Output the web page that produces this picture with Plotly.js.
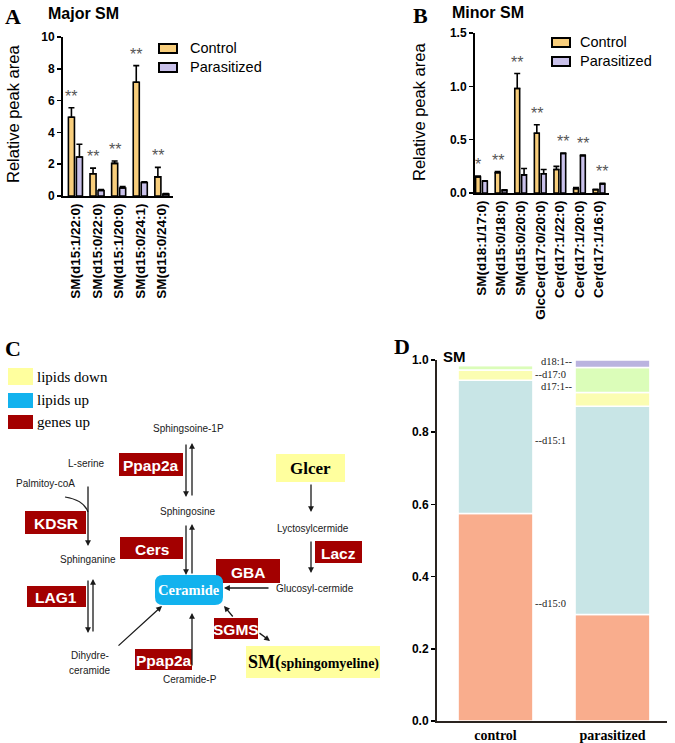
<!DOCTYPE html>
<html><head><meta charset="utf-8">
<script src="https://cdn.plot.ly/plotly-3.0.1.min.js"></script>
<style>body{margin:0;padding:0;background:#fff}#chart{width:675px;height:743px}</style>
</head><body><div id="chart"></div>
<script>
// ---------- Panel A: Major SM ----------
const majorCategories = ['SM(d15:1/22:0)','SM(d15:0/22:0)','SM(d15:1/20:0)','SM(d15:0/24:1)','SM(d15:0/24:0)'];
const majorControl = [4.95, 1.4, 2.05, 7.15, 1.2];
const majorControlErr = [0.6, 0.35, 0.15, 1.05, 0.6];
const majorParasitized = [2.45, 0.35, 0.5, 0.85, 0.12];
const majorParasitizedErr = [0.8, 0.05, 0.1, 0.05, 0.03];
const majorSig = ['**','**','**','**','**'];

// ---------- Panel B: Minor SM ----------
const minorCategories = ['SM(d18:1/17:0)','SM(d15:0/18:0)','SM(d15:0/20:0)','GlcCer(d17:0/20:0)','Cer(d17:1/22:0)','Cer(d17:1/20:0)','Cer(d17:1/16:0)'];
const minorControl = [0.15, 0.19, 0.98, 0.56, 0.22, 0.04, 0.03];
const minorControlErr = [0.01, 0.01, 0.14, 0.08, 0.03, 0.01, 0.005];
const minorParasitized = [0.11, 0.025, 0.17, 0.18, 0.37, 0.35, 0.085];
const minorParasitizedErr = [0.005, 0.005, 0.06, 0.04, 0.005, 0.005, 0.005];
const minorSig = ['*','**','**','**','**','**','**'];

// ---------- Panel D: SM composition ----------
const smGroups = ['control','parasitized'];
const smSpecies = ['d15:0','d15:1','d17:0','d17:1','d18:1'];
const sm_d15_0 = [0.575, 0.295];
const sm_d15_1 = [0.369, 0.577];
const sm_d17_0 = [0.028, 0.038];
const sm_d17_1 = [0.013, 0.069];
const sm_d18_1 = [0.0, 0.021];

// ---------- helpers ----------
const W = 675, H = 743;
const X = p => p / W;
const Y = p => 1 - p / H;
const CTRL = '#F8CE7C', PARA = '#C9C1EA';
const GENE = '#A30000', LIPDOWN = '#FFFF9E', LIPUP = '#12B2EE';
const SANS = 'Liberation Sans, Arial, sans-serif';
const NARROW = 'Liberation Sans Narrow, Arial Narrow, Liberation Sans, sans-serif';
const SERIF = 'Liberation Serif, Times New Roman, serif';

const traces = [];
const annotations = [];
const shapes = [];

function groupTraces(cats, ctrl, ctrlErr, para, paraErr, xa, ya, off, w) {
  const zero = ctrlErr.map(() => 0);
  traces.push({type:'bar', x:cats, y:ctrl, xaxis:xa, yaxis:ya, name:'Control',
    offset:off[0], width:w, marker:{color:CTRL, line:{color:'#000', width:1.6}},
    error_y:{type:'data', symmetric:false, array:ctrlErr, arrayminus:zero, color:'#000', thickness:1.6, width:3}});
  traces.push({type:'bar', x:cats, y:para, xaxis:xa, yaxis:ya, name:'Parasitized',
    offset:off[1], width:w, marker:{color:PARA, line:{color:'#000', width:1.6}},
    error_y:{type:'data', symmetric:false, array:paraErr, arrayminus:zero, color:'#000', thickness:1.6, width:3}});
}
groupTraces(majorCategories, majorControl, majorControlErr, majorParasitized, majorParasitizedErr, 'x', 'y', [-0.33, 0.04], 0.28);
groupTraces(minorCategories, minorControl, minorControlErr, minorParasitized, minorParasitizedErr, 'x2', 'y2', [-0.30, 0.05], 0.25);

function sigStars(sig, ctrl, ctrlErr, para, paraErr, xr, yr, off, w) {
  sig.forEach((s, i) => {
    const c = ctrl[i] + ctrlErr[i], p = para[i] + paraErr[i];
    const useCtrl = c >= p;
    annotations.push({xref:xr, yref:yr, x: i + (useCtrl ? off[0] : off[1]) + w/2, y: Math.max(c, p),
      text:s, showarrow:false, yanchor:'bottom', yshift:1, font:{family:SANS, size:16, color:'#555'}});
  });
}
sigStars(majorSig, majorControl, majorControlErr, majorParasitized, majorParasitizedErr, 'x', 'y', [-0.33, 0.04], 0.28);
sigStars(minorSig, minorControl, minorControlErr, minorParasitized, minorParasitizedErr, 'x2', 'y2', [-0.30, 0.05], 0.25);

// stacked D (base from cumulative sums)
const smSeries = [sm_d15_0, sm_d15_1, sm_d17_0, sm_d17_1, sm_d18_1];
const smColors = ['#F9AD8D', '#C8E5E6', '#FBFDB2', '#DBFDB9', '#BAB3DF'];
let cum = smGroups.map(() => 0);
smSeries.forEach((vals, i) => {
  traces.push({type:'bar', x:smGroups, y:vals, base:cum.slice(), xaxis:'x3', yaxis:'y3', name:smSpecies[i],
    width:0.64, marker:{color:smColors[i], line:{color:'#fff', width:1.5}}});
  cum = cum.map((c, j) => c + vals[j]);
});

// ---------- text helpers ----------
function txt(x, y, text, font, xanchor, extra) {
  annotations.push(Object.assign({xref:'paper', yref:'paper', x:X(x), y:Y(y), text:text, showarrow:false,
    xanchor:xanchor || 'center', yanchor:'middle', font:font}, extra || {}));
}
function rect(x0, y0, x1, y1, fill, line) {
  shapes.push({type:'rect', xref:'paper', yref:'paper', x0:X(x0), y0:Y(y0), x1:X(x1), y1:Y(y1),
    fillcolor:fill, line:line || {width:0}, layer:'above'});
}
function arrow(tx, ty, hx, hy) {
  annotations.push({xref:'paper', yref:'paper', x:X(hx), y:Y(hy), ax:tx - hx, ay:ty - hy, text:'',
    showarrow:true, arrowhead:2, arrowsize:0.9, arrowwidth:1.3, arrowcolor:'#1a1a1a', standoff:0, startstandoff:0});
}

// panel letters and titles
const letterFont = {family:SERIF, size:22, color:'#000', weight:'bold'};
txt(3, 16, 'A', letterFont, 'left');
txt(411, 15, 'B', letterFont, 'left');
txt(3, 348, 'C', letterFont, 'left');
txt(392, 347, 'D', letterFont, 'left');
const titleFont = {family:SANS, size:16, color:'#000', weight:'bold'};
txt(46, 14, 'Major SM', titleFont, 'left');
txt(450, 13, 'Minor SM', titleFont, 'left');
txt(441, 357, 'SM', {family:SANS, size:15, color:'#000', weight:'bold'}, 'left');

// y axis titles A/B
txt(13, 114, 'Relative peak area', {family:SANS, size:16.5, color:'#000'}, 'center', {textangle:-90});
txt(419, 112, 'Relative peak area', {family:SANS, size:16.5, color:'#000'}, 'center', {textangle:-90});

// legends A/B
function legend(bx, by, tx, gap) {
  rect(bx, by, bx + 18, by + 9, CTRL, {color:'#000', width:2});
  rect(bx, by + gap, bx + 18, by + gap + 9, PARA, {color:'#000', width:2});
  const lf = {family:SANS, size:14.5, color:'#000'};
  txt(tx, by + 4, 'Control', lf, 'left');
  txt(tx, by + gap + 4, 'Parasitized', lf, 'left');
}
legend(159, 44, 188, 19);
legend(552, 38, 578, 19);

// D segment labels
const dl = {family:SERIF, size:10.5, color:'#222'};
txt(574, 362, 'd18:1--', dl, 'right');
txt(533, 374, '--d17:0', dl, 'left');
txt(574, 386, 'd17:1--', dl, 'right');
txt(533, 440, '--d15:1', dl, 'left');
txt(533, 603, '--d15:0', dl, 'left');

// ---------- Panel C: pathway diagram ----------
rect(8, 368, 33, 385, LIPDOWN);
rect(8, 393, 33, 408, LIPUP);
rect(8, 415, 33, 429, GENE);
const legC = {family:SERIF, size:15, color:'#000'};
txt(35, 377, 'lipids down', legC, 'left');
txt(35, 400, 'lipids up', legC, 'left');
txt(35, 422, 'genes up', legC, 'left');

const geneFont = {family:SANS, size:15.5, color:'#fff', weight:'bold'};
const genes = [
  ['Ppap2a', 119, 453, 183, 476], ['KDSR', 25, 511, 86, 534], ['Cers', 120, 537, 183, 559],
  ['GBA', 216, 559, 280, 583], ['Lacz', 315, 541, 362, 563], ['LAG1', 27, 586, 86, 607],
  ['Ppap2a', 135, 649, 192, 670], ['SGMS', 214, 618, 258, 639]
];

arrow(186, 443, 186, 497); arrow(192, 497, 192, 443);
arrow(186, 524, 186, 575); arrow(192, 575, 192, 524);
arrow(88, 485, 88, 546);
arrow(311, 483, 311, 512);
arrow(311, 540, 311, 573);
arrow(270, 588, 224, 588);
arrow(88, 579, 88, 633); arrow(93, 633, 93, 579);
arrow(117, 647, 162, 606);
arrow(192, 667, 192, 613);
arrow(234, 618, 224, 606);
arrow(258, 632, 270, 641);
shapes.push({type:'path', xref:'paper', yref:'paper',
  path:`M ${X(65)} ${Y(497)} Q ${X(84)} ${Y(500)} ${X(88)} ${Y(512)}`, line:{color:'#222', width:1.2}});

genes.forEach(g => { rect(g[1], g[2], g[3], g[4], GENE); txt((g[1] + g[3]) / 2, (g[2] + g[4]) / 2 + 1, g[0], geneFont); });

// yellow lipid boxes
rect(276, 454, 345, 482, LIPDOWN);
txt(310.5, 468, 'Glcer', {family:SERIF, size:17, color:'#000', weight:'bold'});
rect(246, 646, 380, 678, LIPDOWN);
txt(313, 662, '<span style="font-size:18px">SM(</span>sphingomyeline)', {family:SERIF, size:14, color:'#000', weight:'bold'});

// ceramide rounded box
(function () {
  const x0 = 155, y0 = 575, x1 = 223, y1 = 605, r = 8;
  const p = `M ${X(x0 + r)} ${Y(y0)} L ${X(x1 - r)} ${Y(y0)} Q ${X(x1)} ${Y(y0)} ${X(x1)} ${Y(y0 + r)} ` +
    `L ${X(x1)} ${Y(y1 - r)} Q ${X(x1)} ${Y(y1)} ${X(x1 - r)} ${Y(y1)} L ${X(x0 + r)} ${Y(y1)} ` +
    `Q ${X(x0)} ${Y(y1)} ${X(x0)} ${Y(y1 - r)} L ${X(x0)} ${Y(y0 + r)} Q ${X(x0)} ${Y(y0)} ${X(x0 + r)} ${Y(y0)} Z`;
  shapes.push({type:'path', xref:'paper', yref:'paper', path:p, fillcolor:LIPUP, line:{width:0}, layer:'above'});
})();
txt(189, 590, 'Ceramide', {family:SERIF, size:14.5, color:'#fff', weight:'bold'});

const lab = {family:NARROW, size:10, color:'#1a1a1a'};
txt(188, 428, 'Sphingsoine-1P', lab);
txt(107, 463, 'L-serine', lab, 'right');
txt(14, 483, 'Palmitoy-coA', lab, 'left');
txt(187, 511, 'Sphingosine', lab);
txt(88, 559, 'Sphinganine', lab);
txt(313, 528, 'Lyctosylcermide', lab);
txt(315, 588, 'Glucosyl-cermide', lab);
txt(90, 655, 'Dihydre-', lab);
txt(90, 670, 'ceramide', lab);
txt(190, 679, 'Ceramide-P', lab);

// ---------- axes ----------
const tickBold = {family:SANS, size:12, color:'#000', weight:'bold'};
const xTickBold = {family:SANS, size:13.5, color:'#000', weight:'bold'};
const baseY = {showline:true, linecolor:'#000', linewidth:2, ticks:'outside', ticklen:4, tickwidth:1.5,
  tickcolor:'#000', showgrid:false, zeroline:false, tickfont:tickBold, fixedrange:true};
const baseX = {type:'category', showline:true, linecolor:'#000', linewidth:2, ticks:'', showgrid:false,
  zeroline:false, tickangle:-90, tickfont:xTickBold, fixedrange:true};

const layout = {
  width:W, height:H, margin:{l:0, r:0, t:0, b:0}, paper_bgcolor:'#fff', plot_bgcolor:'rgba(0,0,0,0)',
  showlegend:false, barmode:'overlay',
  xaxis: Object.assign({}, baseX, {domain:[X(63), X(173)], anchor:'y', range:[-0.58, 4.51]}),
  yaxis: Object.assign({}, baseY, {domain:[Y(196), Y(37)], anchor:'x', range:[0, 10], dtick:2}),
  xaxis2: Object.assign({}, baseX, {domain:[X(475), X(609)], anchor:'y2', range:[-0.33, 6.51]}),
  yaxis2: Object.assign({}, baseY, {domain:[Y(193), Y(33)], anchor:'x2', range:[0, 1.5], dtick:0.5, tickformat:'.1f'}),
  xaxis3: {type:'category', domain:[X(437), X(667)], anchor:'y3', range:[-0.5, 1.466], showline:true,
    linecolor:'#2a2420', linewidth:2, ticks:'', showgrid:false, zeroline:false, fixedrange:true,
    tickfont:{family:SERIF, size:14, color:'#000', weight:'bold'}},
  yaxis3: Object.assign({}, baseY, {domain:[Y(721), Y(360)], anchor:'x3', range:[0, 1.0], dtick:0.2,
    tickformat:'.1f', linecolor:'#2a2420'}),
  annotations: annotations, shapes: shapes
};

Plotly.newPlot('chart', traces, layout, {displayModeBar:false, staticPlot:true});
</script></body></html>
